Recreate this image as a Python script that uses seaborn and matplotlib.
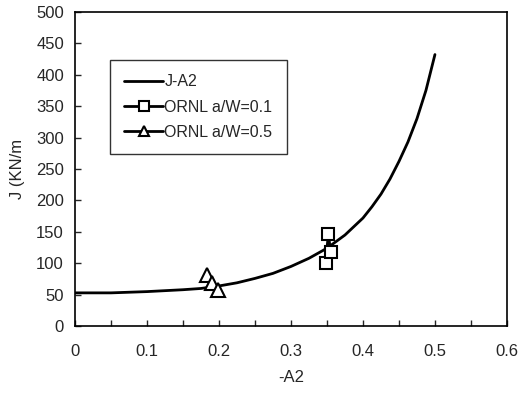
import matplotlib
matplotlib.use("Agg")
import matplotlib.pyplot as plt
from matplotlib.ticker import MultipleLocator
import seaborn as sns
import pandas as pd

# J-A2 curve
curve_a2 = [0.0, 0.05, 0.1, 0.15, 0.175, 0.2, 0.225, 0.25, 0.275, 0.3, 0.325,
            0.35, 0.375, 0.4, 0.4125, 0.425, 0.4375, 0.45, 0.4625, 0.475,
            0.4875, 0.5]
curve_j = [53, 53, 55, 58, 60, 64, 69, 76, 84, 95, 108,
           124, 145, 172, 190, 210, 234, 262, 293, 330,
           375, 432]

# ORNL data
ornl1_a2 = [0.348, 0.352, 0.355]
ornl1_j = [100, 147, 118]
ornl5_a2 = [0.183, 0.19, 0.199]
ornl5_j = [81, 68, 58]

sns.set_style("ticks")
plt.rcParams['font.family'] = ['Liberation Sans', 'DejaVu Sans']

fig, ax = plt.subplots(figsize=(5.21, 3.93), dpi=100)
fig.subplots_adjust(left=0.144, right=0.973, bottom=0.17, top=0.97)

df_curve = pd.DataFrame({'A2': curve_a2, 'J': curve_j})
df1 = pd.DataFrame({'A2': ornl1_a2, 'J': ornl1_j})
df5 = pd.DataFrame({'A2': ornl5_a2, 'J': ornl5_j})

sns.lineplot(data=df_curve, x='A2', y='J', ax=ax, color='black', lw=2,
             label='J-A2', sort=False)
sns.lineplot(data=df1, x='A2', y='J', ax=ax, color='black', lw=2, marker='s',
             markersize=9, markerfacecolor='white', markeredgecolor='black',
             markeredgewidth=1.5, label='ORNL a/W=0.1', sort=False)
sns.lineplot(data=df5, x='A2', y='J', ax=ax, color='black', lw=2, marker='^',
             markersize=10, markerfacecolor='white', markeredgecolor='black',
             markeredgewidth=1.5, label='ORNL a/W=0.5', sort=False)

ax.set_xlim(0, 0.6)
ax.set_ylim(0, 500)
ax.xaxis.set_minor_locator(MultipleLocator(0.05))
ax.yaxis.set_major_locator(MultipleLocator(50))
ax.set_xticks([0, 0.1, 0.2, 0.3, 0.4, 0.5, 0.6])
ax.set_xticklabels(['0', '0.1', '0.2', '0.3', '0.4', '0.5', '0.6'])
ax.tick_params(which='both', direction='in', length=4, width=1, labelsize=12)
ax.tick_params(axis='x', pad=13)
ax.tick_params(axis='y', pad=8)
for s in ax.spines.values():
    s.set_linewidth(1.2)
    s.set_color('black')

ax.set_xlabel('-A2', fontsize=12, labelpad=8)
ax.set_ylabel('J (KN/m', fontsize=12, labelpad=8)

leg = ax.legend(loc='upper left', bbox_to_anchor=(0.081, 0.847), fontsize=11.5,
                frameon=True, fancybox=False, edgecolor='black',
                handlelength=2.4, handletextpad=0.1, labelspacing=0.65,
                borderpad=0.9, borderaxespad=0, markerscale=0.75)
leg.get_frame().set_linewidth(1)

fig.savefig('out.png', dpi=100)
